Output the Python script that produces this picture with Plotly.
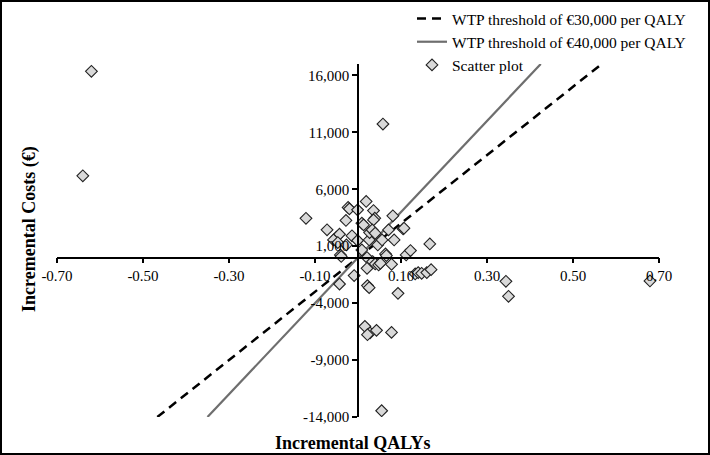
import plotly.graph_objects as go

# ---- data ----
qaly = [-0.620, -0.640, 0.058, 0.055, -0.121, -0.072, -0.050, -0.043, -0.057, -0.047,
        -0.027, -0.041, -0.039, -0.023, -0.020, -0.001, -0.028, 0.019, 0.036, 0.039,
        0.036, 0.009, 0.013, -0.014, -0.001, 0.009, 0.026, 0.027, 0.033, 0.040,
        0.046, 0.056, 0.071, 0.081, 0.084, 0.105, 0.107, 0.112, 0.122, 0.167,
        0.064, 0.066, 0.021, 0.034, 0.040, 0.048, 0.052, 0.021, 0.078, -0.009,
        -0.043, 0.022, 0.026, 0.093, 0.133, 0.140, 0.148, 0.160, 0.170, 0.016,
        0.028, 0.022, 0.043, 0.078, 0.344, 0.350, 0.679]
costs = [16360, 7180, 11730, -13450, 3450, 2440, 1790, 2050, 1550, 1320,
         1110, 230, 100, 4400, 4280, 4190, 3260, 4930, 4130, 3460,
         3310, 3020, 2870, 1910, 1500, 670, 1550, 2200, 2430, 2140,
         1110, 1550, 2430, 3670, 1550, 2520, 2580, 230, 620, 1200,
         320, 180, 0, -350, -560, -650, -500, -940, -590, -1580,
         -2320, -2460, -2640, -3140, -1440, -1320, -1380, -1320, -1060, -6040,
         -6620, -6770, -6390, -6570, -2080, -3400, -2050]

wtp_thresholds = [30000, 40000]
wtp_names = ["WTP threshold of €30,000 per QALY", "WTP threshold of €40,000 per QALY"]

x_tickvals = [-0.70, -0.50, -0.30, -0.10, 0.10, 0.30, 0.50, 0.70]
x_ticktext = ["-0.70", "-0.50", "-0.30", "-0.10", "0.10", "0.30", "0.50", "0.70"]
y_tickvals = [-14000, -9000, -4000, 1000, 6000, 11000, 16000]
y_ticktext = ["-14,000", "-9,000", "-4,000", "1,000", "6,000", "11,000", "16,000"]

X_RANGE = [-0.70, 0.70]
Y_RANGE = [-14000, 17000]

FONT = "Liberation Serif, Times New Roman, serif"

fig = go.Figure()

# WTP lines (y = threshold * x), spanning the visible cost range
styles = [dict(color="black", width=2.5, dash="9px,6px"),
          dict(color="#6e6e6e", width=2.2, dash="solid")]
for thr, name, st in zip(wtp_thresholds, wtp_names, styles):
    ys = list(Y_RANGE)
    xs = [y / thr for y in ys]
    fig.add_trace(go.Scatter(x=xs, y=ys, mode="lines", name=name, line=st,
                             hoverinfo="skip"))

fig.add_trace(go.Scatter(
    x=qaly, y=costs, mode="markers", name="Scatter plot",
    marker=dict(symbol="diamond", size=9, color="#d9d9d9",
                line=dict(color="#222222", width=1.1))))

W, H = 710, 455
ml, mr, mt, mb = 57, 51, 64, 38
pw, ph = W - ml - mr, H - mt - mb

def px_to_paper_x(px):
    return (px - ml) / pw

def py_to_paper_y(py):
    return (H - mb - py) / ph

x_zero_pos = (0 - Y_RANGE[0]) / (Y_RANGE[1] - Y_RANGE[0])
y_zero_pos = (0 - X_RANGE[0]) / (X_RANGE[1] - X_RANGE[0])

fig.update_layout(
    width=W, height=H,
    margin=dict(l=ml, r=mr, t=mt, b=mb, autoexpand=False),
    paper_bgcolor="white", plot_bgcolor="white",
    font=dict(family=FONT, size=15, color="black"),
    showlegend=True,
    legend=dict(x=px_to_paper_x(412), y=py_to_paper_y(2), xanchor="left", yanchor="top",
                bgcolor="rgba(0,0,0,0)", font=dict(family=FONT, size=15.5),
                tracegroupgap=0, itemwidth=30),
    xaxis=dict(range=X_RANGE, anchor="free", position=x_zero_pos,
               showline=True, linecolor="black", linewidth=1.5,
               ticks="outside", ticklen=5, tickcolor="black", tickwidth=1.5,
               tickvals=x_tickvals, ticktext=x_ticktext,
               showgrid=False, zeroline=False,
               tickfont=dict(family=FONT, size=15)),
    yaxis=dict(range=Y_RANGE, anchor="free", position=y_zero_pos,
               showline=True, linecolor="black", linewidth=1.5,
               ticks="outside", ticklen=5, tickcolor="black", tickwidth=1.5,
               tickvals=y_tickvals, ticktext=y_ticktext,
               showgrid=False, zeroline=False,
               tickfont=dict(family=FONT, size=15)),
    annotations=[
        dict(text="<b>Incremental QALYs</b>", xref="paper", yref="paper",
             x=px_to_paper_x(353), y=py_to_paper_y(443), xanchor="center", yanchor="middle",
             showarrow=False, font=dict(family=FONT, size=18)),
        dict(text="<b>Incremental Costs (€)</b>", xref="paper", yref="paper",
             x=px_to_paper_x(29), y=py_to_paper_y(229), xanchor="center", yanchor="middle",
             textangle=-90, showarrow=False, font=dict(family=FONT, size=18)),
    ],
    shapes=[dict(type="rect", xref="paper", yref="paper",
                 x0=px_to_paper_x(1), x1=px_to_paper_x(709),
                 y0=py_to_paper_y(454), y1=py_to_paper_y(1),
                 line=dict(color="black", width=2), fillcolor="rgba(0,0,0,0)")],
)

fig.write_html("out.html", config={"displayModeBar": False},
               post_script="document.body.style.margin='0';document.body.style.overflow='hidden';")
